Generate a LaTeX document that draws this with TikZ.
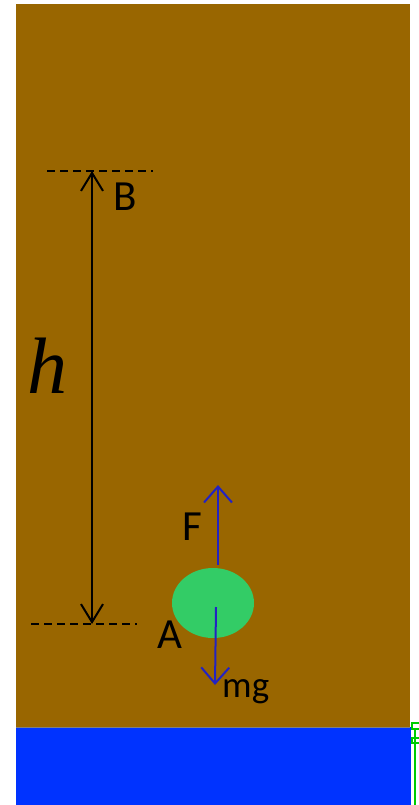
\documentclass[tikz,border=0pt]{standalone}
\usepackage{fontspec}
\newfontfamily\labelfont{Carlito}
\newfontfamily\heightfont{Liberation Serif}
\usetikzlibrary{arrows.meta}
\definecolor{soil}{RGB}{153,102,0}
\definecolor{water}{RGB}{0,51,255}
\definecolor{ball}{RGB}{51,204,102}
\definecolor{force}{RGB}{35,35,195}
\tikzset{
  lbl/.style={anchor=base west,inner sep=0pt,font=\labelfont\fontsize{43}{46}\selectfont},
  level/.style={dashed,line width=1.5pt,dash pattern=on 8pt off 5pt},
  forcearrow/.style={draw=force,line width=2pt,-{Straight Barb[length=16pt,width=28pt,line width=2pt]}}
}
\begin{document}
\begin{tikzpicture}[x=1pt,y=-1pt]
\useasboundingbox (0,0) rectangle (419,805);
\fill[white] (0,0) rectangle (419,805);
% background
\fill[soil] (16,4) rectangle (410,727);
\fill[water] (16,727) rectangle (411,805);
\draw[gray,line width=1pt] (16,727)--(410,727);
% clipped shape at the right edge
\draw[green!80!black,line width=1.5pt,fill=white] (412,723) rectangle (420,729);
\draw[green!80!black,line width=1.5pt,fill=white] (412,738) rectangle (420,743);
\draw[green!80!black,line width=2pt] (415,729)--(415,805);
% levels
\coordinate (B) at (92,171);
\coordinate (A) at (92,624);
\draw[level] (47,171)--(153,171);
\draw[level] (31,624)--(137,624);
\draw[line width=2pt,{Straight Barb[length=18pt,width=22pt,line width=2pt]}-{Straight Barb[length=18pt,width=22pt,line width=2pt]}] (B)--(A);
\node[anchor=base west,inner sep=0pt,font=\heightfont\fontsize{80}{84}\selectfont\itshape] (h) at (27,393) {h};
\node[lbl] (Blbl) at (113,211) {B};
\node[lbl] (Albl) at (157,648) {A};
% ball and forces
\fill[ball] (213,603) ellipse[x radius=41,y radius=35];
\coordinate (Fs) at (218,565);
\coordinate (Fe) at (218,485);
\coordinate (Gs) at (216,607);
\coordinate (Ge) at (215,685);
\draw[forcearrow] (Fs)--(Fe);
\draw[forcearrow] (Gs)--(Ge);
\node[lbl] (Flbl) at (182,540) {F};
\node[lbl,font=\labelfont\fontsize{37}{40}\selectfont] (mglbl) at (222,697) {mg};
\end{tikzpicture}
\end{document}
